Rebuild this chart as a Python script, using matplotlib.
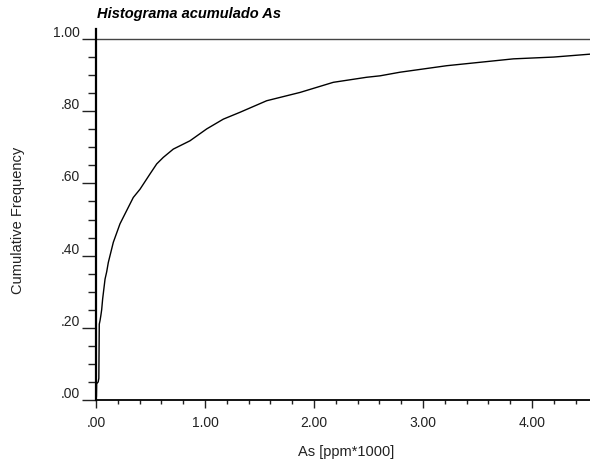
import matplotlib
matplotlib.use("Agg")
import matplotlib.pyplot as plt
from matplotlib.ticker import MultipleLocator, FuncFormatter

plt.rcParams['font.family'] = ['Liberation Sans', 'DejaVu Sans']

# valores (As en ppm*1000, frecuencia acumulada)
as_vals = [0.0, 0.004, 0.006, 0.02, 0.026, 0.03, 0.037, 0.045, 0.052, 0.061, 0.083,
           0.098, 0.113, 0.159, 0.22, 0.25, 0.342, 0.404, 0.495, 0.557, 0.617,
           0.709, 0.862, 1.016, 1.168, 1.321, 1.566, 1.872, 2.177, 2.483, 2.606,
           2.789, 3.217, 3.829, 4.2, 4.532]
cum_freq = [0.0, 0.01, 0.045, 0.05, 0.06, 0.21, 0.22, 0.235, 0.25, 0.28, 0.335,
            0.355, 0.381, 0.437, 0.488, 0.506, 0.561, 0.584, 0.626, 0.654, 0.672,
            0.695, 0.718, 0.751, 0.778, 0.797, 0.829, 0.852, 0.880, 0.894, 0.898,
            0.908, 0.926, 0.945, 0.950, 0.958]

fig = plt.figure(figsize=(5.9, 4.6), dpi=100)
ax = fig.add_axes([96 / 590, 59 / 460, 494 / 590, 371 / 460])

ax.plot(as_vals, cum_freq, color='black', lw=1.0)
ax.axhline(1.0, color='#444444', lw=1.0)

ax.spines['top'].set_visible(False)
ax.spines['right'].set_visible(False)
ax.spines['left'].set_linewidth(1.6)
ax.spines['bottom'].set_linewidth(1.3)

ax.xaxis.set_major_locator(MultipleLocator(1.0))
ax.xaxis.set_minor_locator(MultipleLocator(0.2))
ax.yaxis.set_major_locator(MultipleLocator(0.2))
ax.yaxis.set_minor_locator(MultipleLocator(0.05))


def fmt(v, pos):
    s = '%.2f' % v
    return s[1:] if s.startswith('0') else s


ax.xaxis.set_major_formatter(FuncFormatter(fmt))
ax.yaxis.set_major_formatter(FuncFormatter(fmt))

ax.tick_params(axis='y', which='major', length=10, width=1, pad=1.5,
               labelsize=10, colors='#222222')
ax.tick_params(axis='y', which='minor', length=5.5, width=1, colors='#222222')
ax.tick_params(axis='x', which='major', length=5.5, width=1, pad=5,
               labelsize=10, colors='#222222')
ax.tick_params(axis='x', which='minor', length=3, width=1, colors='#222222')

ax.set_xlim(0, 4.532)
ax.set_ylim(0, 1.0 + 10 / 361)
for lab in ax.get_yticklabels():
    lab.set_verticalalignment('bottom')

fig.text(346 / 590, 1 - 452 / 460, 'As [ppm*1000]', ha='center', va='center',
         fontsize=10.5, color='#222222')
fig.text(18 / 590, 1 - 220 / 460, 'Cumulative Frequency', ha='center', va='center',
         rotation=90, fontsize=10.5, color='#222222')
fig.text(97 / 590, 1 - 14 / 460, 'Histograma acumulado As', ha='left', va='center',
         fontsize=10.5, fontweight='bold', fontstyle='italic')

fig.savefig('out.png', dpi=100)
